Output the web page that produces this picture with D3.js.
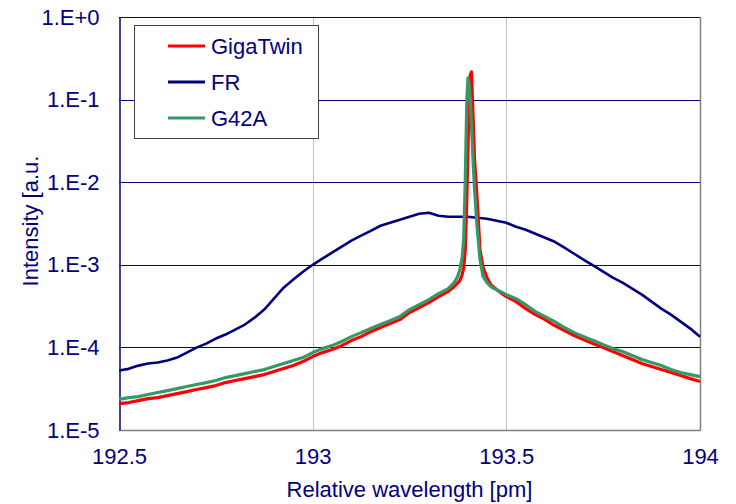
<!DOCTYPE html>
<html><head><meta charset="utf-8">
<script src="https://cdn.jsdelivr.net/npm/d3@7"></script>
<style>
body{margin:0;background:#fff}
text{font-family:Arial,"Liberation Sans",sans-serif;fill:#000080}
</style>
</head><body><svg id="c" width="736" height="504"></svg>
<script>
// ---------- data ----------
const seriesNames = ["GigaTwin", "FR", "G42A"];
const seriesColors = ["#FF0000", "#000080", "#339966"];

const frWavelength = [192.500,192.525,192.550,192.575,192.600,192.625,192.650,192.675,192.700,192.725,
  192.750,192.775,192.800,192.825,192.850,192.875,192.900,192.925,192.950,192.975,
  193.000,193.025,193.050,193.075,193.100,193.125,193.150,193.175,193.200,193.225,
  193.250,193.275,193.300,193.325,193.350,193.375,193.400,193.425,193.450,193.475,
  193.500,193.525,193.550,193.575,193.600,193.625,193.650,193.675,193.700,193.725,
  193.750,193.775,193.800,193.825,193.850,193.875,193.900,193.925,193.950,193.975,194.000];
const frIntensity = [5.24e-5,5.50e-5,6.02e-5,6.37e-5,6.55e-5,6.93e-5,7.53e-5,8.65e-5,9.94e-5,1.11e-4,
  1.28e-4,1.43e-4,1.64e-4,1.89e-4,2.29e-4,2.87e-4,3.89e-4,5.28e-4,6.65e-4,8.25e-4,
  1.00e-3,1.19e-3,1.40e-3,1.66e-3,1.96e-3,2.25e-3,2.58e-3,2.97e-3,3.23e-3,3.51e-3,
  3.82e-3,4.15e-3,4.27e-3,3.92e-3,3.82e-3,3.82e-3,3.82e-3,3.71e-3,3.61e-3,3.41e-3,
  3.23e-3,2.89e-3,2.66e-3,2.38e-3,2.13e-3,1.90e-3,1.61e-3,1.36e-3,1.15e-3,9.75e-4,
  8.25e-4,6.98e-4,6.07e-4,5.14e-4,4.35e-4,3.58e-4,2.95e-4,2.49e-4,2.05e-4,1.69e-4,1.35e-4];

const peakWavelength = [192.500,192.525,192.550,192.575,192.600,192.625,192.650,192.675,192.700,192.725,
  192.750,192.775,192.800,192.825,192.850,192.875,192.900,192.925,192.950,192.975,
  193.000,193.025,193.050,193.075,193.100,193.125,193.150,193.175,193.200,193.225,
  193.250,193.275,193.300,193.325,193.350,
  193.365,193.373,193.380,193.386,193.390,193.394,193.398,193.401,193.404,193.407,
  193.410,193.414,193.418,193.424,193.432,193.440,193.450,193.460,193.475,
  193.500,193.525,193.550,193.575,193.600,193.625,193.650,193.675,193.700,193.725,
  193.750,193.775,193.800,193.825,193.850,193.875,193.900,193.925,193.950,193.975,194.000];
const gigaTwinIntensity = [2.09e-5,2.15e-5,2.27e-5,2.40e-5,2.47e-5,2.61e-5,2.76e-5,2.92e-5,3.09e-5,3.26e-5,
  3.45e-5,3.75e-5,3.97e-5,4.19e-5,4.43e-5,4.69e-5,5.10e-5,5.54e-5,6.03e-5,6.74e-5,
  7.74e-5,8.65e-5,9.41e-5,1.05e-4,1.21e-4,1.35e-4,1.55e-4,1.74e-4,1.94e-4,2.17e-4,
  2.64e-4,3.03e-4,3.48e-4,4.11e-4,4.73e-4,
  5.43e-4,5.91e-4,6.42e-4,7.59e-4,9.23e-4,1.52e-3,6.12e-3,2.47e-2,0.114,0.199,
  0.216,6.53e-2,1.87e-2,7.04e-3,1.52e-3,9.23e-4,6.98e-4,5.74e-4,5.00e-4,
  4.11e-4,3.58e-4,2.95e-4,2.49e-4,2.17e-4,1.84e-4,1.60e-4,1.39e-4,1.24e-4,1.11e-4,
  9.94e-5,8.90e-5,7.96e-5,7.12e-5,6.37e-5,5.86e-5,5.39e-5,4.96e-5,4.56e-5,4.19e-5,3.86e-5];
const g42aIntensity = [2.34e-5,2.47e-5,2.54e-5,2.69e-5,2.84e-5,3.00e-5,3.17e-5,3.36e-5,3.55e-5,3.75e-5,
  3.97e-5,4.31e-5,4.56e-5,4.82e-5,5.10e-5,5.39e-5,5.86e-5,6.37e-5,6.93e-5,7.53e-5,
  8.65e-5,9.67e-5,1.05e-4,1.18e-4,1.35e-4,1.51e-4,1.69e-4,1.89e-4,2.11e-4,2.36e-4,
  2.87e-4,3.29e-4,3.78e-4,4.47e-4,5.14e-4,
  6.07e-4,6.98e-4,8.73e-4,1.22e-3,2.01e-3,1.07e-2,9.92e-2,0.183,0.151,9.92e-2,
  4.94e-2,1.87e-2,8.09e-3,3.05e-3,1.15e-3,7.18e-4,6.07e-4,5.43e-4,5.00e-4,
  4.35e-4,3.89e-4,3.29e-4,2.71e-4,2.36e-4,2.05e-4,1.74e-4,1.51e-4,1.35e-4,1.21e-4,
  1.08e-4,9.67e-5,8.90e-5,7.96e-5,7.12e-5,6.55e-5,6.03e-5,5.39e-5,4.96e-5,4.69e-5,4.43e-5];

const xTickValues = [192.5, 193, 193.5, 194];
const xTickLabels = ["192.5", "193", "193.5", "194"];
const yTickValues = [1, 1e-1, 1e-2, 1e-3, 1e-4, 1e-5];
const yTickLabels = ["1.E+0", "1.E-1", "1.E-2", "1.E-3", "1.E-4", "1.E-5"];
const xTitle = "Relative wavelength [pm]";
const yTitle = "Intensity [a.u.";

// ---------- drawing ----------
const svg = d3.select("#c");
const L = 119, R = 700, T = 17, B = 430;
const x = d3.scaleLinear().domain([192.5, 194]).range([L, R]);
const y = d3.scaleLog().domain([1e-5, 1]).range([B, T]);
const FS = 22;
const FF = "Arial, 'Liberation Sans', sans-serif";

// vertical grid (grey)
svg.append("g").selectAll("line").data(xTickValues.slice(1, 3)).join("line")
  .attr("x1", d => Math.round(x(d)) + 0.5).attr("x2", d => Math.round(x(d)) + 0.5)
  .attr("y1", T).attr("y2", B).attr("stroke", "#c0c0c0").attr("stroke-width", 1);
// horizontal grid (navy)
svg.append("g").selectAll("line").data(yTickValues.slice(0, 5)).join("line")
  .attr("x1", L).attr("x2", R)
  .attr("y1", d => Math.round(y(d)) + 0.5).attr("y2", d => Math.round(y(d)) + 0.5)
  .attr("stroke", "#000080").attr("stroke-width", 1);
// frame: bottom & right grey
svg.append("line").attr("x1", L).attr("x2", R + 0.5).attr("y1", B + 0.5).attr("y2", B + 0.5)
  .attr("stroke", "#808080").attr("stroke-width", 1.5);
svg.append("line").attr("x1", R + 0.5).attr("x2", R + 0.5).attr("y1", T).attr("y2", B + 0.5)
  .attr("stroke", "#808080").attr("stroke-width", 1.5);

// axes
const yAxis = d3.axisLeft(y).tickValues(yTickValues)
  .tickFormat((d, i) => yTickLabels[i]).tickSize(0).tickPadding(20);
const gy = svg.append("g").attr("transform", `translate(${L + 0.5},0)`).call(yAxis);
gy.select(".domain").attr("stroke", "#000080").attr("stroke-width", 1.5);
gy.selectAll("text").attr("font-size", FS).attr("fill", "#000080").attr("font-family", FF);

const xAxis = d3.axisBottom(x).tickValues(xTickValues)
  .tickFormat((d, i) => xTickLabels[i]).tickSize(0).tickPadding(18);
const gx = svg.append("g").attr("transform", `translate(0,${B})`).call(xAxis);
gx.select(".domain").remove();
gx.selectAll("text").attr("font-size", FS).attr("fill", "#000080").attr("font-family", FF);

// titles
svg.append("text").attr("x", (L + R) / 2).attr("y", 497).attr("text-anchor", "middle")
  .attr("font-size", FS).text(xTitle);
svg.append("text").attr("transform", "translate(38,221) rotate(-90)").attr("text-anchor", "middle")
  .attr("font-size", FS).text(yTitle);

// lines
svg.append("clipPath").attr("id", "clip").append("rect")
  .attr("x", L).attr("y", T).attr("width", R - L + 2).attr("height", B - T);
const line = d3.line().x(d => x(d[0])).y(d => y(d[1]));
const series = [
  { xs: frWavelength, ys: frIntensity, color: seriesColors[1], w: 2.6 },
  { xs: peakWavelength, ys: gigaTwinIntensity, color: seriesColors[0], w: 3.2 },
  { xs: peakWavelength, ys: g42aIntensity, color: seriesColors[2], w: 3.2 }
];
const gl = svg.append("g").attr("clip-path", "url(#clip)");
series.forEach(s => {
  gl.append("path").datum(s.xs.map((v, i) => [v, s.ys[i]]))
    .attr("d", line).attr("fill", "none").attr("stroke", s.color)
    .attr("stroke-width", s.w).attr("stroke-linejoin", "round");
});

// legend
const lg = svg.append("g");
lg.append("rect").attr("x", 134.5).attr("y", 25.5).attr("width", 184).attr("height", 113)
  .attr("fill", "#fff").attr("stroke", "#404040").attr("stroke-width", 1);
const rowsY = [46, 82, 118];
seriesNames.forEach((n, i) => {
  lg.append("line").attr("x1", 168).attr("x2", 205).attr("y1", rowsY[i]).attr("y2", rowsY[i])
    .attr("stroke", seriesColors[i]).attr("stroke-width", 3);
  lg.append("text").attr("x", 211).attr("y", rowsY[i] + 8).attr("font-size", FS).text(n);
});
</script></body></html>
